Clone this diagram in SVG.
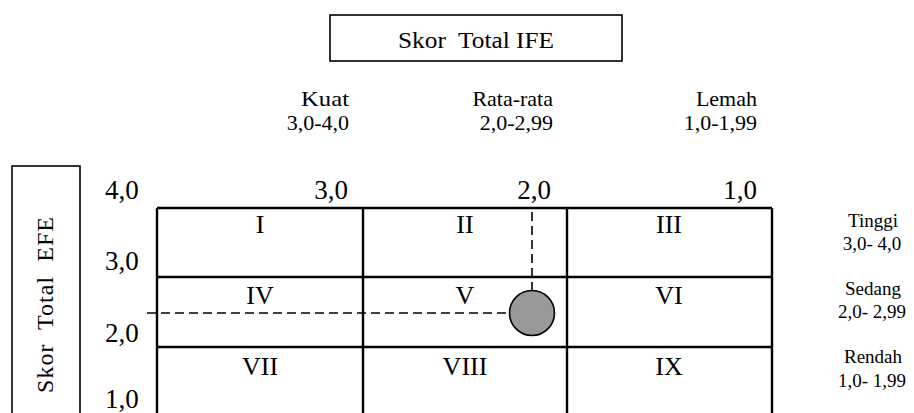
<svg xmlns="http://www.w3.org/2000/svg" width="914" height="413" viewBox="0 0 914 413">
<style>
text { font-family: "Liberation Serif", "Times New Roman", serif; fill: #000; }
.box { fill: none; stroke: #000; stroke-width: 1.6; }
.grid { fill: none; stroke: #000; stroke-width: 2.4; }
.dash { fill: none; stroke: #000; stroke-width: 1.6; stroke-dasharray: 9 5; }
.lbl { font-size: 22px; text-anchor: end; }
.ax { font-size: 27px; }
.rom { font-size: 26px; text-anchor: middle; }
.side { font-size: 19px; text-anchor: middle; }
</style>
<rect width="914" height="413" fill="#fff"/>

<g id="ife-title">
<rect class="box" x="330" y="15" width="292" height="46"/>
<text x="476" y="48" font-size="23" text-anchor="middle" xml:space="preserve" textLength="156" lengthAdjust="spacingAndGlyphs">Skor  Total IFE</text>
</g>

<g id="efe-title">
<rect class="box" x="12" y="166" width="68" height="260"/>
<text transform="translate(53,305) rotate(-90)" font-size="24" text-anchor="middle" xml:space="preserve" textLength="176" lengthAdjust="spacing">Skor  Total  EFE</text>
</g>

<g id="col-labels">
<text class="lbl" x="349" y="106" textLength="48" lengthAdjust="spacingAndGlyphs">Kuat</text>
<text class="lbl" x="349" y="130">3,0-4,0</text>
<text class="lbl" x="553" y="106">Rata-rata</text>
<text class="lbl" x="553" y="130">2,0-2,99</text>
<text class="lbl" x="757" y="106">Lemah</text>
<text class="lbl" x="757" y="130">1,0-1,99</text>
</g>

<g id="axis-numbers">
<text class="ax" x="105" y="199">4,0</text>
<text class="ax" x="348" y="199" text-anchor="end">3,0</text>
<text class="ax" x="551" y="199" text-anchor="end">2,0</text>
<text class="ax" x="757" y="199" text-anchor="end">1,0</text>
<text class="ax" x="105" y="270">3,0</text>
<text class="ax" x="105" y="342">2,0</text>
<text class="ax" x="105" y="408">1,0</text>
</g>

<g id="row-labels">
<text class="side" x="873" y="227">Tinggi</text>
<text class="side" x="872" y="250" xml:space="preserve">3,0- 4,0</text>
<text class="side" x="873" y="295">Sedang</text>
<text class="side" x="872" y="318" xml:space="preserve">2,0- 2,99</text>
<text class="side" x="873" y="363">Rendah</text>
<text class="side" x="872" y="387" xml:space="preserve">1,0- 1,99</text>
</g>

<g id="matrix">
<line class="grid" x1="157" y1="208" x2="772" y2="208"/>
<line class="grid" x1="157" y1="277" x2="772" y2="277"/>
<line class="grid" x1="157" y1="347" x2="772" y2="347"/>
<line class="grid" x1="157" y1="208" x2="157" y2="420"/>
<line class="grid" x1="363" y1="208" x2="363" y2="420"/>
<line class="grid" x1="567" y1="208" x2="567" y2="420"/>
<line class="grid" x1="772" y1="208" x2="772" y2="420"/>
</g>

<g id="cell-I"><text class="rom" x="260" y="233">I</text></g>
<g id="cell-II"><text class="rom" x="465" y="233">II</text></g>
<g id="cell-III"><text class="rom" x="669" y="233">III</text></g>
<g id="cell-IV"><text class="rom" x="260" y="304">IV</text></g>
<g id="cell-V"><text class="rom" x="465" y="304">V</text></g>
<g id="cell-VI"><text class="rom" x="669" y="304">VI</text></g>
<g id="cell-VII"><text class="rom" x="260" y="375">VII</text></g>
<g id="cell-VIII"><text class="rom" x="465" y="375">VIII</text></g>
<g id="cell-IX"><text class="rom" x="669" y="375">IX</text></g>

<g id="connectors">
<line class="dash" x1="532" y1="212" x2="532" y2="290"/>
<line class="dash" x1="147" y1="313" x2="509" y2="313"/>
</g>

<g id="position-marker">
<circle cx="532" cy="313" r="22.5" fill="#999" stroke="#000" stroke-width="1.6"/>
</g>
</svg>
